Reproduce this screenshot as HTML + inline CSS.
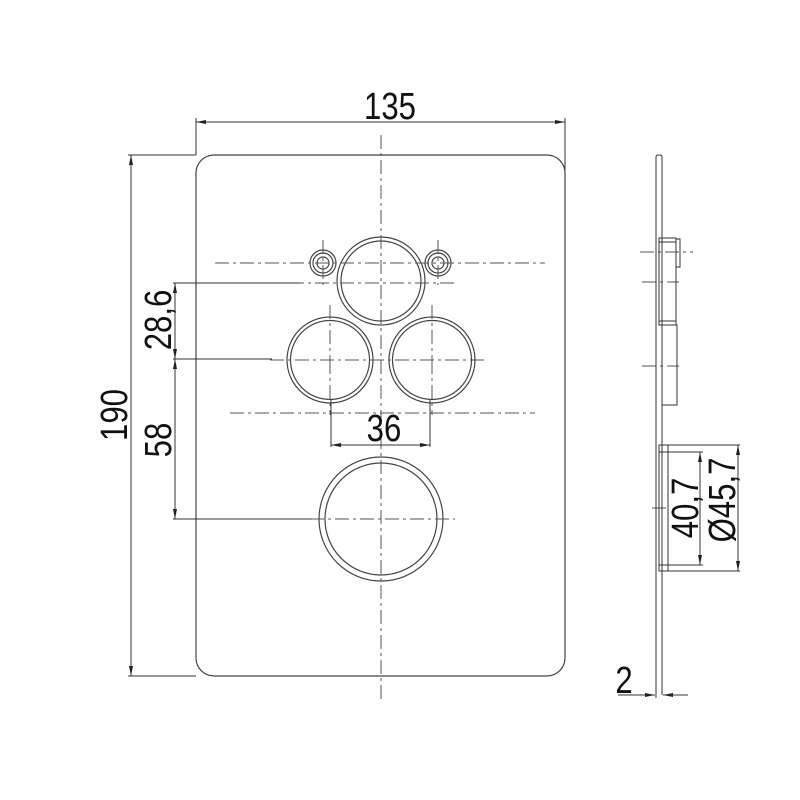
<!DOCTYPE html>
<html><head><style>html,body{margin:0;padding:0;background:#fff}svg{display:block}</style></head>
<body>
<svg width="800" height="800" viewBox="0 0 800 800" xmlns="http://www.w3.org/2000/svg">
<defs>
<marker id="a" viewBox="0 0 10 4" refX="10" refY="2" markerWidth="10" markerHeight="4" orient="auto-start-reverse" markerUnits="userSpaceOnUse"><path d="M0,0L10,2L0,4z" fill="#222"/></marker>
</defs>
<g fill="none" stroke="#444" stroke-width="1.2">
<rect x="196" y="155" width="369" height="521" rx="18"/>
<circle cx="381" cy="281" r="44"/><circle cx="381" cy="281" r="40"/>
<circle cx="330" cy="360" r="43"/><circle cx="330" cy="360" r="39.5"/>
<circle cx="432" cy="360" r="43"/><circle cx="432" cy="360" r="39.5"/>
<circle cx="381" cy="519" r="62"/><circle cx="381" cy="519" r="56"/>
<circle cx="323" cy="263" r="13"/><circle cx="323" cy="263" r="10"/><circle cx="323" cy="263" r="6"/>
<circle cx="438" cy="263" r="13"/><circle cx="438" cy="263" r="10"/><circle cx="438" cy="263" r="6"/>
</g>
<g fill="none" stroke="#555" stroke-width="1" stroke-dasharray="14,4,3,4">
<line x1="381" y1="135" x2="381" y2="700"/>
<line x1="215" y1="263" x2="545" y2="263"/>
<line x1="230" y1="413" x2="535" y2="413"/>
<line x1="323" y1="240" x2="323" y2="285"/>
<line x1="438" y1="240" x2="438" y2="285"/>
<line x1="330" y1="305" x2="330" y2="360"/>
<line x1="432" y1="305" x2="432" y2="360"/>
<line x1="330" y1="360" x2="330" y2="415"/>
<line x1="432" y1="360" x2="432" y2="415"/>
<line x1="270" y1="360" x2="485" y2="360"/>
<line x1="310" y1="519" x2="455" y2="519"/>
<line x1="290" y1="283" x2="455" y2="283"/>
<line x1="640" y1="252" x2="693" y2="252"/>
<line x1="642" y1="282" x2="679" y2="282"/>
<line x1="642" y1="366" x2="679" y2="366"/>
<line x1="652" y1="508" x2="670" y2="508"/>
</g>
<g fill="none" stroke="#333" stroke-width="1">
<line x1="196" y1="118" x2="196" y2="155"/><line x1="565" y1="118" x2="565" y2="170"/>
<line x1="196" y1="122" x2="565" y2="122" marker-start="url(#a)" marker-end="url(#a)"/>
<line x1="128" y1="155" x2="196" y2="155"/><line x1="128" y1="676" x2="196" y2="676"/>
<line x1="131" y1="155" x2="131" y2="676" marker-start="url(#a)" marker-end="url(#a)"/>
<line x1="173" y1="283" x2="300" y2="283"/>
<line x1="173" y1="359" x2="272" y2="359"/>
<line x1="173" y1="519" x2="312" y2="519"/>
<line x1="175" y1="283" x2="175" y2="359" marker-start="url(#a)" marker-end="url(#a)"/>
<line x1="175" y1="359" x2="175" y2="519" marker-start="url(#a)" marker-end="url(#a)"/>
<line x1="331" y1="400" x2="331" y2="447"/><line x1="430" y1="400" x2="430" y2="447"/>
<line x1="331" y1="445" x2="430" y2="445" marker-start="url(#a)" marker-end="url(#a)"/>
<path d="M656,157 Q656,155 658,155 L660,155 Q662,155 662,157 L662,695"/>
<line x1="656" y1="157" x2="656" y2="695"/>
<rect x="659" y="238" width="17" height="87"/>
<rect x="676" y="239" width="4" height="28"/>
<line x1="659" y1="242" x2="676" y2="242"/>
<line x1="659" y1="321" x2="676" y2="321"/>
<rect x="662" y="325" width="15" height="80"/>
<rect x="659" y="445" width="9" height="126"/>
<line x1="662" y1="452" x2="662" y2="565"/>
<line x1="659" y1="452" x2="668" y2="452"/><line x1="659" y1="565" x2="668" y2="565"/>
<line x1="668" y1="445" x2="740" y2="445"/><line x1="668" y1="571" x2="740" y2="571"/>
<line x1="668" y1="452" x2="703" y2="452"/><line x1="668" y1="565" x2="703" y2="565"/>
<line x1="700" y1="452" x2="700" y2="565" marker-start="url(#a)" marker-end="url(#a)"/>
<line x1="738" y1="445" x2="738" y2="571" marker-start="url(#a)" marker-end="url(#a)"/>
<line x1="656" y1="680" x2="656" y2="698"/>
<line x1="618" y1="695" x2="655" y2="695" marker-end="url(#a)"/>
<line x1="688" y1="695" x2="663" y2="695" marker-end="url(#a)"/>
</g>
<g font-family="Liberation Sans, sans-serif" font-size="38" fill="#111" text-anchor="middle">
<text transform="translate(390,119) scale(0.82,1)">135</text>
<text transform="translate(384,441) scale(0.82,1)">36</text>
<text transform="translate(127,415) rotate(-90) scale(0.82,1)">190</text>
<text transform="translate(171,320) rotate(-90) scale(0.82,1)">28,6</text>
<text transform="translate(171,440) rotate(-90) scale(0.82,1)">58</text>
<text transform="translate(698,508) rotate(-90) scale(0.82,1)">40,7</text>
<text transform="translate(735,500) rotate(-90) scale(0.82,1)">Ø45,7</text>
<text transform="translate(624,693) scale(0.82,1)">2</text>
</g>
</svg>
</body></html>
